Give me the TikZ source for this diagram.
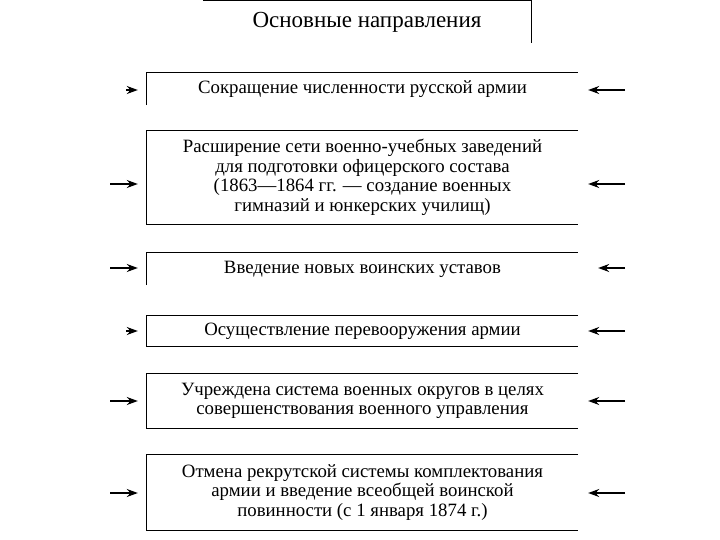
\documentclass[tikz,border=0pt]{standalone}
\usepackage{fontspec}
\setmainfont{Liberation Serif}
\usetikzlibrary{arrows.meta}

\begin{document}
\begin{tikzpicture}[
  x=1pt, y=-1pt,
  >={Stealth[length=11pt,width=8pt]},
  base/.style={
    inner sep=0pt, align=center,
    font=\fontsize{18.8}{19.5}\selectfont
  },
  item/.style={
    base,
    minimum width=431pt
  },
  line/.style={line width=1.2pt, black},
  arrow/.style={->, line width=1.2pt, black}
]
\useasboundingbox (0,0) rectangle (720,540);

%% Header
\node[base, font=\fontsize{23}{24}\selectfont,
      minimum width=328pt, minimum height=42pt]
  (head) at (367,22) {\raisebox{-2pt}{Основные направления}};
\draw[line] (head.north west) -- (head.north east) -- (head.south east);

%% Items
\node[item, minimum height=32pt] (b1) at (362.5,89)
  {Сокращение численности русской армии};
\node[item, minimum height=93pt] (b2) at (362.5,177.5) {%
  Расширение сети военно-учебных заведений\\
  для подготовки офицерского состава\\
  (1863---1864 гг. --- создание военных\\
  гимназий и юнкерских училищ)};
\node[item, minimum height=32pt] (b3) at (362.5,269)
  {Введение новых воинских уставов};
\node[item, minimum height=30pt] (b4) at (362.5,331)
  {Осуществление перевооружения армии};
\node[item, minimum height=54pt] (b5) at (362.5,401) {%
  Учреждена система военных округов в целях\\
  совершенствования военного управления};
\node[item, minimum height=75pt] (b6) at (362.5,492.5) {%
  Отмена рекрутской системы комплектования\\
  армии и введение всеобщей воинской\\
  повинности (с 1 января 1874 г.)};

%% --- Frames ---
\draw[line] (b1.south west) |- (b1.north east);
\draw[line] (b2.north east) -| (b2.south west) -- (b2.south east);
\draw[line] (b3.south west) |- (b3.north east);
\draw[line] (b4.north east) -| (b4.south west) -- (b4.south east);
\draw[line] (b5.north east) -| (b5.south west) -- (b5.south east);
\draw[line] (b6.north east) -| (b6.south west) -- (b6.south east);

%% --- Arrows ---
\coordinate (l1) at (126,90);
\coordinate (l2) at (110,184);
\coordinate (l3) at (110,268);
\coordinate (l4) at (126,331);
\coordinate (l5) at (110,401);
\coordinate (l6) at (110,493);
\coordinate (r1) at (625,90);
\coordinate (r2) at (625,184);
\coordinate (r3) at (625,268);
\coordinate (r4) at (625,331);
\coordinate (r5) at (625,401);
\coordinate (r6) at (625,493);

\draw[arrow, shorten >=9pt] (l1) -- (l1 -| b1.west);
\draw[arrow, shorten >=9pt] (l2) -- (l2 -| b2.west);
\draw[arrow, shorten >=9pt] (l3) -- (l3 -| b3.west);
\draw[arrow, shorten >=9pt] (l4) -- (l4 -| b4.west);
\draw[arrow, shorten >=9pt] (l5) -- (l5 -| b5.west);
\draw[arrow, shorten >=9pt] (l6) -- (l6 -| b6.west);

\draw[arrow, shorten >=10pt] (r1) -- (r1 -| b1.east);
\draw[arrow, shorten >=10pt] (r2) -- (r2 -| b2.east);
\draw[arrow, shorten >=20pt] (r3) -- (r3 -| b3.east);
\draw[arrow, shorten >=10pt] (r4) -- (r4 -| b4.east);
\draw[arrow, shorten >=10pt] (r5) -- (r5 -| b5.east);
\draw[arrow, shorten >=10pt] (r6) -- (r6 -| b6.east);

\end{tikzpicture}
\end{document}
